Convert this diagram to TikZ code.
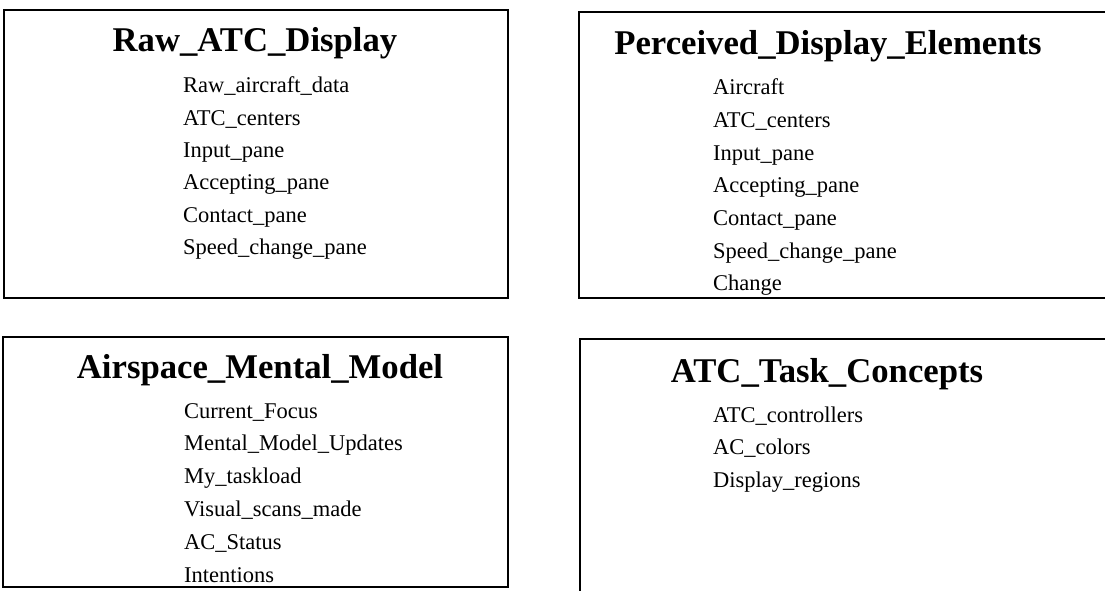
\documentclass[tikz,border=0pt]{standalone}
\usepackage{fontspec}
\setmainfont{Liberation Serif}
\begin{document}
\begin{tikzpicture}[x=1pt,y=1pt,
    panel/.style={draw, line width=1.6pt, rectangle, inner sep=0pt},
    heading/.style={anchor=base, inner sep=0pt, font=\fontsize{34.7}{40}\selectfont\bfseries},
    item/.style={anchor=base west, inner sep=0pt, font=\fontsize{22.5}{27}\selectfont}]
    \clip (0,0) rectangle (1105,590);

    % Raw display
    \node [panel, minimum width=504pt, minimum height=288pt] (rawbox) at (256,436) {};
    \node [heading] (rawtitle) at (255,538) {Raw\_ATC\_Display};
    \foreach [count=\i] \t in {Raw\_aircraft\_data, ATC\_centers, Input\_pane,
        Accepting\_pane, Contact\_pane, Speed\_change\_pane}
        \node [item] (raw\i) at (183,{497.3-32.4*(\i-1)}) {\t};

    % Perceived elements
    \node [panel, minimum width=546pt, minimum height=286pt] (percbox) at (852,435) {};
    \node [heading] (perctitle) at (828,535) {Perceived\_Display\_Elements};
    \foreach [count=\i] \t in {Aircraft, ATC\_centers, Input\_pane, Accepting\_pane,
        Contact\_pane, Speed\_change\_pane, Change}
        \node [item] (perc\i) at (713,{495-32.6*(\i-1)}) {\t};

    % Mental model
    \node [panel, minimum width=505pt, minimum height=250pt] (mentalbox) at (255.5,128) {};
    \node [heading] (mentaltitle) at (260,212) {Airspace\_Mental\_Model};
    \foreach [count=\i] \t in {Current\_Focus, Mental\_Model\_Updates, My\_taskload,
        Visual\_scans\_made, AC\_Status, Intentions}
        \node [item] (mental\i) at (184,{172-32.8*(\i-1)}) {\t};

    % Task concepts
    \node [panel, minimum width=545pt, minimum height=271pt] (taskbox) at (852.5,115.5) {};
    \node [heading] (tasktitle) at (827,208) {ATC\_Task\_Concepts};
    \foreach [count=\i] \t in {ATC\_controllers, AC\_colors, Display\_regions}
        \node [item] (task\i) at (713,{168-32.5*(\i-1)}) {\t};
\end{tikzpicture}
\end{document}
